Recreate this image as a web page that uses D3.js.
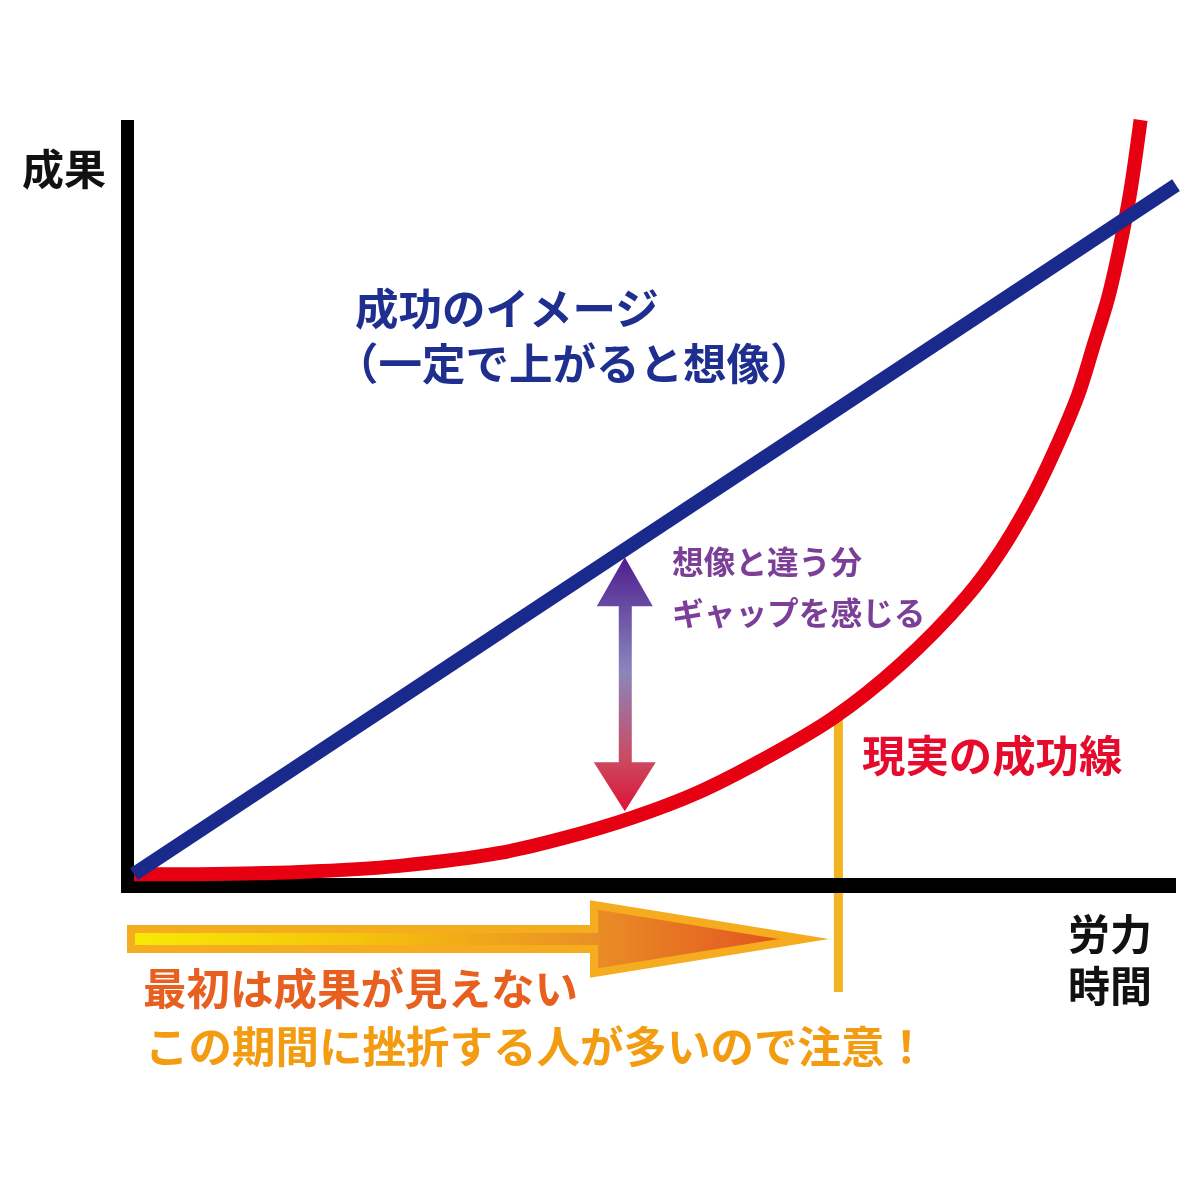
<!DOCTYPE html>
<html>
<head>
<meta charset="utf-8">
<script src="https://cdn.jsdelivr.net/npm/d3@7"></script>
<style>
  html, body { margin: 0; padding: 0; background: #fff; }
  svg { display: block; filter: blur(0.6px); }
  text { font-family: "Noto Sans CJK JP", sans-serif; font-weight: 700; }
</style>
</head>
<body>
<svg id="chart" width="1200" height="1200"></svg>
<script>
// values, both axes 0-100
const effortReal = [0, 6.3, 15.9, 25.5, 35.1, 41.6, 47.9, 54, 60.6, 67.1, 73.5, 79.9, 83.1, 86.3, 88.4, 90.6, 92.1, 93.5, 94.6, 95.6, 96.6];
const resultReal = [0.5, 0.5, 0.8, 1.6, 3.3, 5.4, 8, 11.2, 15.8, 21.1, 28.1, 37.1, 43, 50.5, 56.5, 63.7, 70.3, 76.6, 83.2, 90.4, 100];
const effortImage = [0, 100];
const resultImage = [0.5, 91.4];

const cutoffEffort = 67.6;
const cutoffResult = 21;
const gapEffort = 47.1;
const gapImage = 42.3;
const gapReal = 8.8;

const yLabel = "成果";
const xLabels = ["労力", "時間"];
const imageLabels = ["成功のイメージ", "（一定で上がると想像）"];
const gapLabels = ["想像と違う分", "ギャップを感じる"];
const realLabel = "現実の成功線";
const noteLabels = ["最初は成果が見えない", "この期間に挫折する人が多いので注意！"];

const x = d3.scaleLinear().domain([0, 100]).range([134, 1176]);
const y = d3.scaleLinear().domain([0, 100]).range([878, 120]);

const svg = d3.select("#chart");
const defs = svg.append("defs");

const addGradient = (id, x2, y2, stops) => {
    defs.append("linearGradient")
        .attr("id", id)
        .attr("gradientUnits", "userSpaceOnUse")
        .attr("x1", 0).attr("y1", 0).attr("x2", x2).attr("y2", y2)
        .selectAll("stop")
        .data(stops)
        .join("stop")
        .attr("offset", d => d[0])
        .attr("stop-color", d => d[1]);
};

// x2/y2 are relative to the translated group of each arrow
addGradient("gapFill", 0, 253, [[0, "#4f1e8e"], [0.45, "#8a86bd"], [0.8, "#cb4a60"], [1, "#dc1438"]]);
addGradient("noteFill", 655, 0, [[0, "#f7ea06"], [0.35, "#f5c20c"], [0.7, "#ea9026"], [1, "#e2521f"]]);

// axes
svg.append("line")
    .attr("x1", x(0) - 6.5).attr("x2", x(0) - 6.5)
    .attr("y1", y(100)).attr("y2", y(0) + 15)
    .attr("stroke", "#000").attr("stroke-width", 13);
svg.append("line")
    .attr("x1", x(0) - 13).attr("x2", x(100))
    .attr("y1", y(0) + 7.5).attr("y2", y(0) + 7.5)
    .attr("stroke", "#000").attr("stroke-width", 15);

// cutoff line, from the red curve down under the axis
svg.append("line")
    .attr("x1", x(cutoffEffort)).attr("x2", x(cutoffEffort))
    .attr("y1", y(cutoffResult)).attr("y2", y(0))
    .attr("stroke", "#f4b421").attr("stroke-width", 9);
svg.append("line")
    .attr("x1", x(cutoffEffort)).attr("x2", x(cutoffEffort))
    .attr("y1", y(0) + 15).attr("y2", 992)
    .attr("stroke", "#f4b421").attr("stroke-width", 9);

// curves
const line = d3.line().x(d => x(d[0])).y(d => y(d[1]));
svg.append("path")
    .attr("d", line.curve(d3.curveCatmullRom)(d3.zip(effortReal, resultReal)))
    .attr("fill", "none").attr("stroke", "#e60012").attr("stroke-width", 14);
svg.append("path")
    .attr("d", line.curve(d3.curveLinear)(d3.zip(effortImage, resultImage)))
    .attr("fill", "none").attr("stroke", "#1a2a8c").attr("stroke-width", 14);

// gap arrow between the two curves
const gapTop = y(gapImage);
const gapBottom = y(gapReal);
const gapH = gapBottom - gapTop;
const gapShape = [
    [0, 0], [28, 49], [7, 49], [7, gapH - 49], [31, gapH - 49], [0, gapH],
    [-31, gapH - 49], [-6, gapH - 49], [-6, 49], [-28, 49]
];
svg.append("g")
    .attr("transform", `translate(${x(gapEffort)},${gapTop})`)
    .append("polygon")
    .attr("points", gapShape.map(d => d.join(",")).join(" "))
    .attr("fill", "url(#gapFill)");

// note arrow under the axis
const noteShape = [
    [0, -10], [463, -10], [463, -34], [673, 0], [463, 34], [463, 10], [0, 10]
];
svg.append("g")
    .attr("transform", `translate(131,939)`)
    .append("polygon")
    .attr("points", noteShape.map(d => d.join(",")).join(" "))
    .attr("fill", "url(#noteFill)")
    .attr("stroke", "#f5ac1e").attr("stroke-width", 8)
    .attr("stroke-miterlimit", 10);

// labels
const addText = (rows, left, baselines, size, color) => {
    svg.append("g").selectAll("text")
        .data(rows)
        .join("text")
        .attr("x", (d, i) => Array.isArray(left) ? left[i] : left)
        .attr("y", (d, i) => baselines[i])
        .attr("font-size", size)
        .attr("fill", color)
        .text(d => d);
};

addText([yLabel], 22, [185], 42, "#111");
addText(xLabels, 1068, [950, 1002], 42, "#111");
addText(imageLabels, [355, 335], [325, 380], 43.5, "#1f2f8f");
addText(gapLabels, 672, [574, 625], 31.7, "#7c3f98");
addText([realLabel], 862, [772], 43.4, "#e60b2c");
addText([noteLabels[0]], 143, [1005], 43.5, "#e8601f");
addText([noteLabels[1]], 145, [1063], 43.5, "#f39c12");
</script>
</body>
</html>
